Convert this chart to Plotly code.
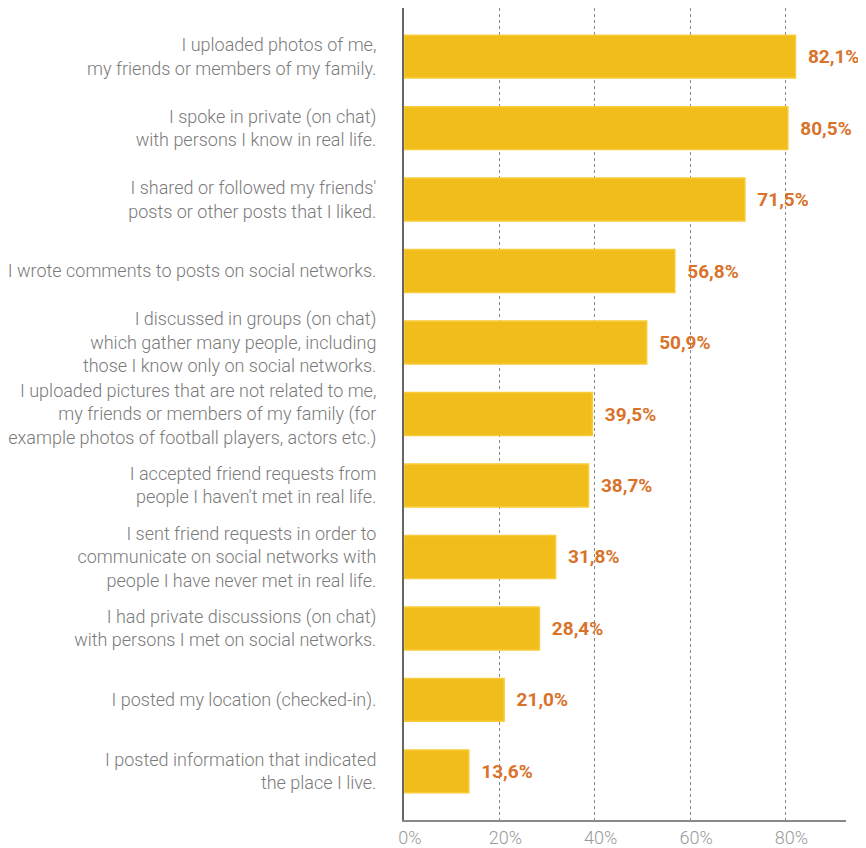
import plotly.graph_objects as go

categories = [
    "I uploaded photos of me,<br>my friends or members of my family.",
    "I spoke in private (on chat)<br>with persons I know in real life.",
    "I shared or followed my friends'<br>posts or other posts that I liked.",
    "I wrote comments to posts on social networks.",
    "I discussed in groups (on chat)<br>which gather many people, including<br>those I know only on social networks.",
    "I uploaded pictures that are not related to me,<br>my friends or members of my family (for<br>example photos of football players, actors etc.)",
    "I accepted friend requests from<br>people I haven't met in real life.",
    "I sent friend requests in order to<br>communicate on social networks with<br>people I have never met in real life.",
    "I had private discussions (on chat)<br>with persons I met on social networks.",
    "I posted my location (checked-in).",
    "I posted information that indicated<br>the place I live.",
]
values = [82.1, 80.5, 71.5, 56.8, 50.9, 39.5, 38.7, 31.8, 28.4, 21.0, 13.6]
tick_vals = [0, 20, 40, 60, 80]
tick_text = ["0%", "20%", "40%", "60%", "80%"]

labels = ["\u00a0\u00a0" + f"{v:.1f}".replace(".", ",") + "%" for v in values]

fig = go.Figure()
fig.add_trace(go.Bar(
    x=values, y=categories, orientation="h",
    marker=dict(color="#F1BD1B", line=dict(color="#F7CB3A", width=1.5)),
    width=0.6,
    text=labels, textposition="outside",
    textfont=dict(family="Roboto", size=19, color="#D9732A", weight="bold"),
    cliponaxis=False,
    hoverinfo="skip",
))

fig.update_layout(
    width=866, height=848,
    margin=dict(l=392, r=28, t=0, b=36),
    plot_bgcolor="white", paper_bgcolor="white",
    showlegend=False,
    font=dict(family="Roboto", color="#7a7a7a"),
)
fig.update_xaxes(
    range=[0, 92.7], tickvals=tick_vals, ticktext=tick_text,
    showgrid=True, gridcolor="#888888", griddash="dot", gridwidth=1,
    showline=True, linecolor="#888888", linewidth=2,
    tickfont=dict(family="Roboto", size=18, color="#9a9a9a", weight=300),
    ticklabelshift=6,
    zeroline=False, ticks="", fixedrange=True,
)
fig.update_yaxes(
    range=[10.68, -0.68], type="category",
    showline=True, linecolor="#666666", linewidth=2,
    showgrid=False, ticks="", ticklabelstandoff=22,
    tickfont=dict(family="Roboto", size=18, color="#7a7a7a", weight=300),
    fixedrange=True,
)
fig.write_html("out.html")
